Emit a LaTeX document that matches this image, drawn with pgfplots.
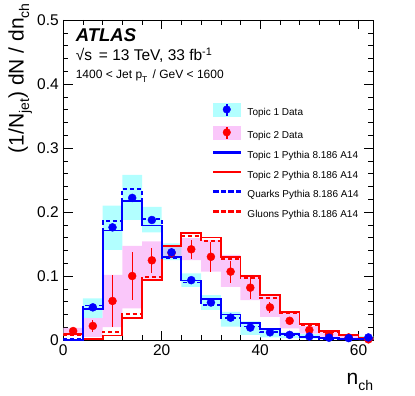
\documentclass[border=0pt]{standalone}
\usepackage{fontspec}
\setmainfont{Liberation Sans}
\usepackage{pgfplots}
\usepackage{pgfplotstable}
\pgfplotsset{compat=1.18}
\usepgfplotslibrary{fillbetween}

\definecolor{tonecol}{rgb}{0,0,1}
\definecolor{ttwocol}{rgb}{1,0,0}
\definecolor{tonefill}{rgb}{0.70,1.00,1.00}
\definecolor{ttwofill}{rgb}{0.98,0.78,0.98}
\definecolor{bothfill}{rgb}{0.78,0.80,0.97}

% Pythia predictions, value of the bin starting at x
\pgfplotstableread{
x    t1     t2     q      g
0    0.000  0.009  0.001  0.008
4    0.048  0.002  0.054  0.002
8    0.171  0.007  0.186  0.013
12   0.217  0.035  0.236  0.041
16   0.179  0.094  0.189  0.098
20   0.130  0.147  0.128  0.146
24   0.093  0.167  0.090  0.1625
28   0.064  0.160  0.055  0.155
32   0.040  0.130  0.035  0.127
36   0.026  0.100  0.021  0.097
40   0.0167 0.070  0.012  0.066
44   0.010  0.044  0.007  0.042
48   0.005  0.025  0.004  0.023
52   0.003  0.014  0.002  0.013
56   0.002  0.008  0.001  0.007
60   0.002  0.003  0.001  0.003
63   0.002  0.003  0.001  0.003
}\pythia

% systematic bands of the topics, bin starting at x
\pgfplotstableread{
x    alo    ahi    blo    bhi
0    0.000  0.000  0.007  0.019
4    0.034  0.065  0.005  0.034
8    0.141  0.210  0.020  0.1016
12   0.1875 0.258  0.0495 0.147
16   0.168  0.208  0.096  0.154
20   0.125  0.151  0.128  0.148
24   0.083  0.104  0.125  0.159
28   0.047  0.070  0.107  0.156
32   0.021  0.044  0.083  0.133
36   0.008  0.029  0.0625 0.1016
40   0.004  0.018  0.036  0.068
44   0.003  0.012  0.018  0.042
48   0.002  0.009  0.010  0.022
52   0.001  0.006  0.005  0.013
56   0.001  0.005  0.002  0.007
60   0.001  0.006  0.000  0.003
63   0.001  0.006  0.000  0.003
}\bands

% where both bands overlap
\pgfplotstableread{
x    lo     hi
20   0.128  0.148
24   0.128  0.148
}\overlap

\pgfplotstableread{
x   y
6   0.051
10  0.176
14  0.222
18  0.1875
22  0.137
26  0.0935
30  0.0586
34  0.0349
38  0.0194
42  0.012
46  0.008
50  0.0055
54  0.0036
58  0.003
62  0.004
}\topicone

\pgfplotstableread{
x   y       e
2   0.014   0.002
6   0.022   0.010
10  0.061   0.040
14  0.100   0.038
18  0.1245  0.020
22  0.136   0.008
26  0.1417  0.015
30  0.130   0.023
34  0.1068  0.017
38  0.0818  0.017
42  0.051   0.009
46  0.030   0.005
50  0.0156  0.003
54  0.009   0.002
58  0.004   0.001
62  0.001   0.001
}\topictwo

\begin{document}
\begin{tikzpicture}
\begin{axis}[
    width=310pt, height=320pt,
    scale only axis,
    xmin=0, xmax=63,
    ymin=0, ymax=0.5,
    xtick={0,20,40,60},
    ytick={0,0.1,0.2,0.3,0.4,0.5},
    minor x tick num=4,
    minor y tick num=4,
    tick align=inside,
    major tick length=9.5pt,
    minor tick length=5pt,
    tick style={black, line width=0.5pt},
    axis line style={line width=0.6pt},
    /pgf/number format/assume math mode=true,
    tick label style={font=\fontsize{15.5}{18}\selectfont},
    xticklabel style={yshift=-1pt},
    yticklabel style={xshift=-1pt},
    label style={font=\fontsize{21}{24}\selectfont},
    xlabel={n\raisebox{-0.5ex}{\fontsize{14}{14}\selectfont ch}},
    xlabel style={at={(axis description cs:1,-0.1406)}, anchor=base east, inner sep=0pt},
    ylabel={(1/N\raisebox{-0.5ex}{\fontsize{14}{14}\selectfont jet}) dN / dn\raisebox{-0.5ex}{\fontsize{14}{14}\selectfont ch}},
    ylabel style={at={(axis description cs:-0.10,1.053)}, anchor=south east, inner sep=0pt},
    legend cell align=left,
    legend style={at={(axis cs:30.4,0.371)}, anchor=north west, draw=none, fill=none,
        inner sep=0pt, column sep=7pt, row sep=5.7pt,
        font=\fontsize{10}{12}\selectfont,
        nodes={inner sep=0pt, text height=10pt, text depth=4pt}},
]
% legend
\addlegendimage{legend image code/.code={
    \fill[tonefill] (0pt,-3pt) rectangle (27pt,10pt);
    \fill[tonecol] (13pt,-2pt) rectangle (14pt,9pt);
    \fill[tonecol] (13.5pt,3.5pt) circle (3.8pt);}}
\addlegendentry{Topic 1 Data}
\addlegendimage{legend image code/.code={
    \fill[ttwofill] (0pt,-3pt) rectangle (27pt,10pt);
    \fill[ttwocol] (13pt,-2pt) rectangle (14pt,9pt);
    \fill[ttwocol] (13.5pt,3.5pt) circle (3.8pt);}}
\addlegendentry{Topic 2 Data}
\addlegendimage{legend image code/.code={
    \fill[tonecol] (0pt,2.6pt) rectangle (27pt,4.4pt);}}
\addlegendentry{Topic 1 Pythia 8.186 A14}
\addlegendimage{legend image code/.code={
    \fill[ttwocol] (0pt,2.6pt) rectangle (27pt,4.4pt);}}
\addlegendentry{Topic 2 Pythia 8.186 A14}
\addlegendimage{legend image code/.code={
    \foreach \s in {0,7.5,15,22.5} {\fill[tonecol] (\s pt,2.6pt) rectangle (\s pt+4.5pt,4.4pt);}}}
\addlegendentry{Quarks Pythia 8.186 A14}
\addlegendimage{legend image code/.code={
    \foreach \s in {0,7.5,15,22.5} {\fill[ttwocol] (\s pt,2.6pt) rectangle (\s pt+4.5pt,4.4pt);}}}
\addlegendentry{Gluons Pythia 8.186 A14}

% bands
\addplot[draw=none, const plot, name path=alo, forget plot] table[x=x, y=alo] {\bands};
\addplot[draw=none, const plot, name path=ahi, forget plot] table[x=x, y=ahi] {\bands};
\addplot[draw=none, const plot, name path=blo, forget plot] table[x=x, y=blo] {\bands};
\addplot[draw=none, const plot, name path=bhi, forget plot] table[x=x, y=bhi] {\bands};
\addplot[draw=none, const plot, name path=olo, forget plot] table[x=x, y=lo] {\overlap};
\addplot[draw=none, const plot, name path=ohi, forget plot] table[x=x, y=hi] {\overlap};
\addplot[fill=tonefill, draw=none, forget plot] fill between[of=ahi and alo];
\addplot[fill=ttwofill, draw=none, forget plot] fill between[of=bhi and blo];
\addplot[fill=bothfill, draw=none, forget plot] fill between[of=ohi and olo];

% Pythia histograms
\addplot[const plot, color=ttwocol, line width=1.8pt, solid, mark=none, forget plot] table[x=x, y=t2] {\pythia};
\addplot[const plot, color=ttwocol, line width=1.8pt, dash pattern=on 4pt off 3pt, mark=none, forget plot] table[x=x, y=g] {\pythia};
\addplot[const plot, color=tonecol, line width=1.8pt, solid, mark=none, forget plot] table[x=x, y=t1] {\pythia};
\addplot[const plot, color=tonecol, line width=1.8pt, dash pattern=on 4pt off 3pt, mark=none, forget plot] table[x=x, y=q] {\pythia};

% data
\addplot[only marks, mark=*, mark size=4pt, color=ttwocol, forget plot,
    error bars/.cd, y dir=both, y explicit, error mark=none,
    error bar style={line width=1pt, color=ttwocol}]
    table[x=x, y=y, y error=e] {\topictwo};
\addplot[only marks, mark=*, mark size=4pt, color=tonecol, forget plot] table[x=x, y=y] {\topicone};

% labels
\node[anchor=base west, inner sep=0pt, font=\fontsize{18.5}{21}\selectfont\bfseries\itshape]
    at (axis cs:2.5,0.466) {ATLAS};
\node[anchor=base west, inner sep=0pt, font=\fontsize{15.5}{18}\selectfont]
    at (axis cs:2.5,0.436) {√s\, = 13 TeV, 33 fb\textsuperscript{-1}};
\node[anchor=base west, inner sep=0pt, font=\fontsize{12}{14}\selectfont]
    at (axis cs:2.5,0.409) {1400 < Jet p\raisebox{-0.6ex}{\fontsize{8.5}{8.5}\selectfont T}\, / GeV < 1600};
\end{axis}
\pgfresetboundingbox
\path[use as bounding box] ([shift={(-63.3pt,-55pt)}]current axis.south west)
    rectangle ([shift={(41.7pt,20pt)}]current axis.north east);
\end{tikzpicture}
\end{document}
